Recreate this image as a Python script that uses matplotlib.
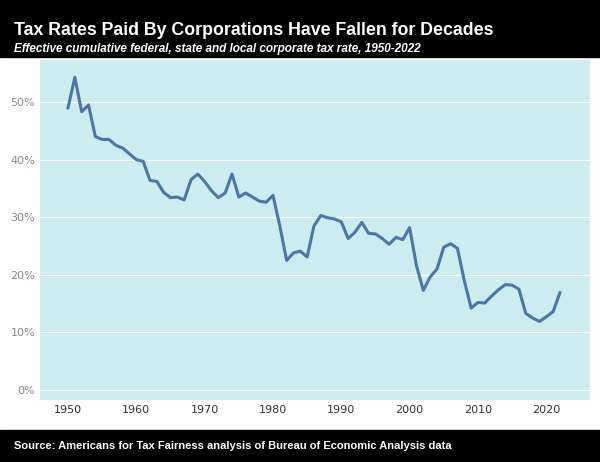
import matplotlib.pyplot as plt
from matplotlib.ticker import PercentFormatter

years = list(range(1950, 2023))
rates = [49.0, 54.3, 48.3, 49.5, 44.0, 43.5, 43.5, 42.5, 42.0, 41.0,
         40.0, 39.7, 36.4, 36.2, 34.3, 33.4, 33.5, 33.0, 36.5, 37.5,
         36.2, 34.6, 33.4, 34.2, 37.5, 33.5, 34.2, 33.5, 32.8, 32.6,
         33.8, 28.5, 22.5, 23.8, 24.1, 23.1, 28.5, 30.3, 29.9, 29.7,
         29.2, 26.3, 27.4, 29.1, 27.2, 27.1, 26.3, 25.3, 26.5, 26.1,
         28.2, 21.6, 17.3, 19.6, 21.0, 24.8, 25.4, 24.6, 19.0, 14.2,
         15.2, 15.1, 16.3, 17.4, 18.3, 18.2, 17.5, 13.3, 12.5, 11.9,
         12.7, 13.6, 16.9]

fig = plt.figure(figsize=(6, 4.62), dpi=100)
fig.patch.set_facecolor('white')

# title bar
fig.patches.append(plt.Rectangle((0, 1 - 57/462), 1, 57/462, transform=fig.transFigure, color='black', zorder=0))
fig.text(0.024, 0.935, 'Tax Rates Paid By Corporations Have Fallen for Decades', color='white',
         fontsize=12.8, fontweight='bold', family='Liberation Sans', va='center')
fig.text(0.024, 0.895, 'Effective cumulative federal, state and local corporate tax rate, 1950-2022', color='white',
         fontsize=8.5, fontweight='bold', style='italic', family='Liberation Sans', va='center')
# source bar
fig.patches.append(plt.Rectangle((0, 0), 1, 32/462, transform=fig.transFigure, color='black', zorder=0))
fig.text(0.024, 0.035, 'Source: Americans for Tax Fairness analysis of Bureau of Economic Analysis data', color='white',
         fontsize=8, fontweight='bold', family='Liberation Sans', va='center')

ax = fig.add_axes([40/600, 1 - 400/462, 550/600, 340/462])
ax.set_facecolor('#cdecef')
ax.plot(years, rates, color='#4a77a6', lw=2.2)
ax.set_xlim(1945.9, 2026.4)
ax.set_ylim(-1.74, 57.3)
ax.set_yticks(range(0, 51, 10))
ax.set_xticks(range(1950, 2021, 10))
ax.yaxis.set_major_formatter(PercentFormatter(decimals=0))
ax.grid(axis='y', color='white', lw=0.8)
for s in ax.spines.values():
    s.set_visible(False)
ax.tick_params(length=0, labelsize=8, colors='#333333')
ax.tick_params(axis='y', colors='#888888')
plt.savefig('out.png', dpi=100)
